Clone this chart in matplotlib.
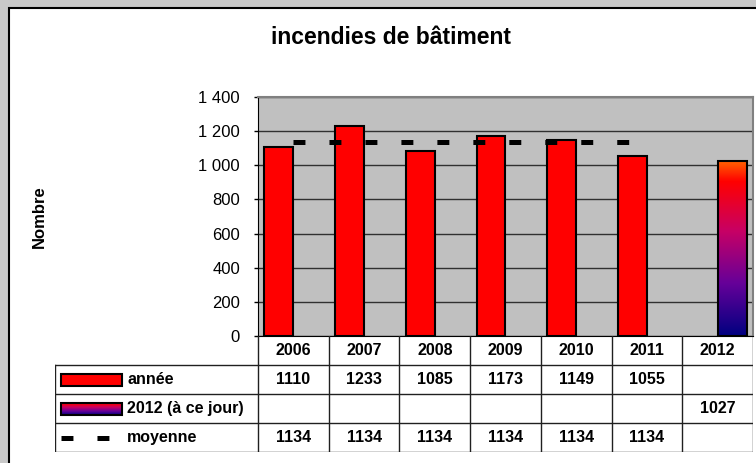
import numpy as np
import matplotlib
matplotlib.use('Agg')
import matplotlib.pyplot as plt
from matplotlib.patches import Rectangle
from matplotlib.colors import LinearSegmentedColormap

plt.rcParams['font.family'] = ['Liberation Sans', 'DejaVu Sans']
plt.rcParams['lines.scale_dashes'] = False

# data
years = ['2006', '2007', '2008', '2009', '2010', '2011', '2012']
annee = [1110, 1233, 1085, 1173, 1149, 1055, np.nan]
jour_2012 = [np.nan, np.nan, np.nan, np.nan, np.nan, np.nan, 1027]
moyenne = [1134, 1134, 1134, 1134, 1134, 1134, np.nan]
row_labels = ['année', '2012 (à ce jour)', 'moyenne']
yticks = [0, 200, 400, 600, 800, 1000, 1200, 1400]

W, H = 756, 463
def fx(px):
    return px / W
def fy(py):
    return 1 - py / H

fig = plt.figure(figsize=(W / 100, H / 100), dpi=100)
fig.patch.set_facecolor('#c8c8c8')
# white chart area, running off the right and bottom edges
fig.add_artist(Rectangle((fx(9), -0.2), 1.2, fy(8) + 0.2, transform=fig.transFigure,
                         facecolor='white', edgecolor='black', lw=1.5, zorder=-10))

grad_cmap = LinearSegmentedColormap.from_list(
    'g2012', [(0, '#000080'), (0.3, '#660099'), (0.6, '#c80064'), (0.88, '#ff0000'), (1.0, '#ff6600')])

# main plot
left, right, top, bottom = 258, 753, 97, 336
ax = fig.add_axes([fx(left), fy(bottom), fx(right) - fx(left), (bottom - top) / H])
ax.set_facecolor('#c0c0c0')
x = np.arange(len(years))
w = 0.41
ax.bar(x - w / 2, annee, w, color='#ff0000', edgecolor='black', lw=1.5, zorder=3)
b2 = ax.bar(x + w / 2, jour_2012, w, color='none', edgecolor='black', lw=1.5, zorder=4)
bar = b2.patches[6]
grad = np.linspace(0, 1, 256).reshape(-1, 1)
im = ax.imshow(grad, extent=[bar.get_x(), bar.get_x() + w, 0, bar.get_height()],
               origin='lower', aspect='auto', cmap=grad_cmap, zorder=3)
im.set_clip_path(bar)
ax.plot(x, moyenne, color='black', lw=3.6, dashes=(8.6, 17.3), zorder=5,
        solid_capstyle='butt', dash_capstyle='butt')

ax.set_xlim(-0.5, 6.5)
ax.set_ylim(0, 1400)
ax.set_yticks(yticks)
ax.set_yticklabels([f'{v:,}'.replace(',', ' ') for v in yticks])
ax.tick_params(axis='y', labelsize=12, length=3, pad=10, width=1)
ax.set_xticks([])
ax.grid(axis='y', color='#303030', lw=1, zorder=1)
ax.set_axisbelow(True)
for s in ['top', 'right']:
    ax.spines[s].set_color('#808080')
    ax.spines[s].set_linewidth(1.5)
ax.spines['left'].set_color('black')
ax.spines['bottom'].set_color('black')

fig.text(fx(391), fy(38), 'incendies de bâtiment', ha='center', va='center',
         fontsize=16.5, fontweight='bold')
fig.text(fx(39), fy(217), 'Nombre', ha='center', va='center', rotation=90,
         fontsize=12, fontweight='bold')

# data table
tl, tb = 55, 452
colw = (right - left) / len(years)
ax_t = fig.add_axes([fx(tl), fy(tb), fx(right) - fx(tl), (tb - bottom) / H])
ax_t.axis('off')

def ux(px):
    return (px - left) / colw - 0.5

lc = '#202020'
for r in range(1, 5):
    ax_t.plot([ux(tl), 6.5], [r, r], color=lc, lw=1)
for c in range(len(years) + 1):
    ax_t.plot([c - 0.5, c - 0.5], [0, 4], color=lc, lw=1)
ax_t.plot([ux(tl), ux(tl)], [1, 4], color=lc, lw=1)

for i, yr in enumerate(years):
    ax_t.text(i, 0.5, yr, ha='center', va='center', fontsize=11.5, fontweight='bold')
for r, series in enumerate([annee, jour_2012, moyenne]):
    for i, v in enumerate(series):
        if not np.isnan(v):
            ax_t.text(i, r + 1.5, f'{v:.0f}', ha='center', va='center',
                      fontsize=11.5, fontweight='bold')
    ax_t.text(ux(127), r + 1.5, row_labels[r], ha='left', va='center',
              fontsize=11.5, fontweight='bold')

# legend keys
kx0, kx1 = ux(61), ux(122)
ax_t.add_patch(Rectangle((kx0, 1.3), kx1 - kx0, 0.42, facecolor='#ff0000',
                         edgecolor='black', lw=1.5))
kb = Rectangle((kx0, 2.3), kx1 - kx0, 0.42, facecolor='none', edgecolor='black', lw=1.5, zorder=4)
ax_t.add_patch(kb)
imk = ax_t.imshow(grad, extent=[kx0, kx1, 2.72, 2.3], origin='lower', aspect='auto',
                  cmap=grad_cmap, zorder=3)
imk.set_clip_path(kb)
ax_t.plot([ux(61), ux(109)], [3.5, 3.5], color='black', lw=3.6, dashes=(8.6, 17.3),
          dash_capstyle='butt')
ax_t.set_xlim(ux(tl), 6.5)
ax_t.set_ylim(4, 0)

fig.savefig('out.png', dpi=100, facecolor=fig.get_facecolor())
